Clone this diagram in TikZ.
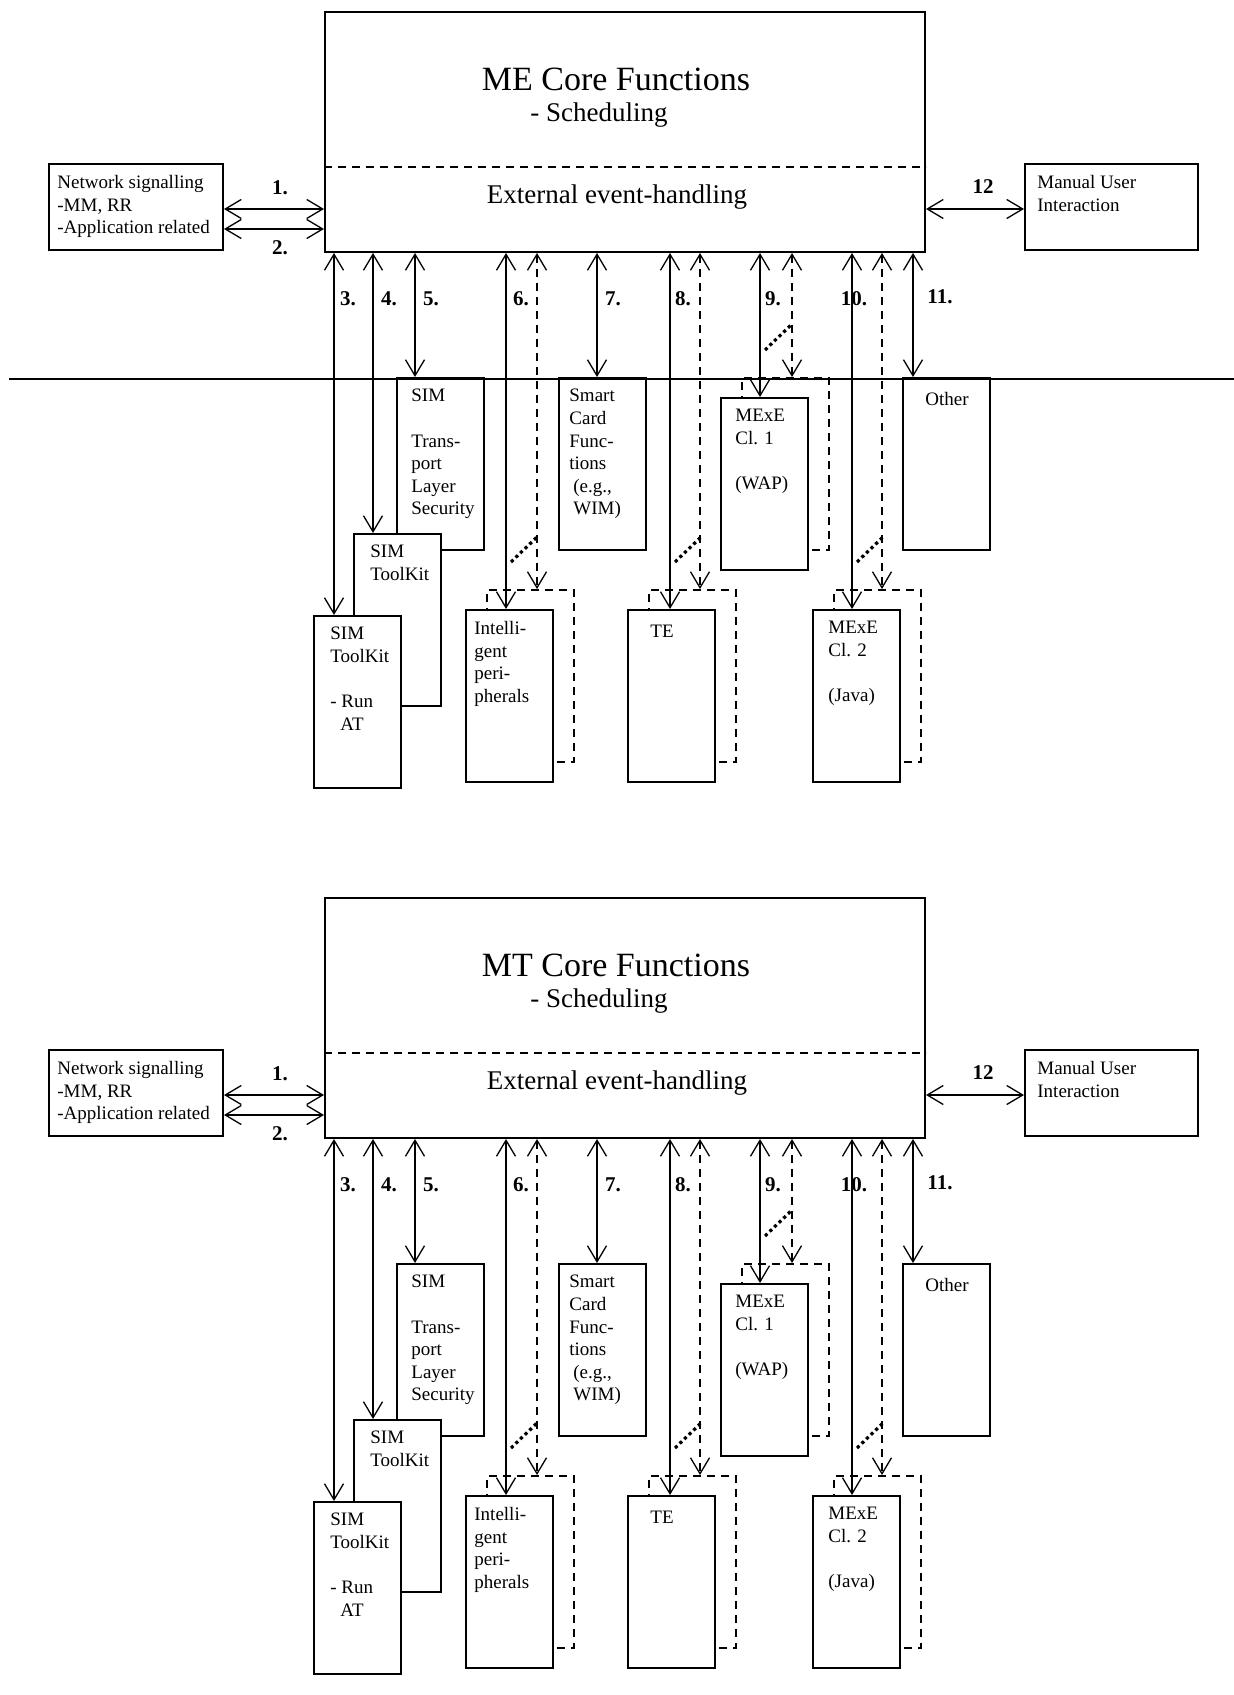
\documentclass[tikz,border=0pt]{standalone}
\usepackage{fontspec}
\setmainfont{Liberation Serif}
\usetikzlibrary{arrows.meta,positioning}

\begin{document}
\begin{tikzpicture}[x=0.5pt,y=-0.5pt,
    every node/.style={inner sep=0pt},
    box/.style={draw,line width=1pt,fill=white,anchor=north west,
      minimum width=43.5pt,minimum height=86pt},
    ghost/.style={box,dash pattern=on 4pt off 3pt,line width=0.8pt},
    txt/.style={anchor=north west,align=left,execute at begin node=\strut,
      font=\fontsize{9.5}{11.3}\selectfont},
    num/.style={font=\fontsize{10.5}{12}\selectfont\bfseries},
    link/.style={line width=0.65pt,
      {Straight Barb[length=8pt,width=9.5pt]}-{Straight Barb[length=8pt,width=9.5pt]}},
    dlink/.style={link,dash pattern=on 4pt off 3pt},
    dotlink/.style={line width=1.6pt,dash pattern=on 1.6pt off 1.6pt}]
  \useasboundingbox (0,0) rectangle (1234,1695);

  \foreach \dy/\ttl/\k in {0/ME/1,886/MT/2}{
  \begin{scope}[shift={(0,\dy)}]
    % core functions
    \node[box,minimum width=300pt,minimum height=120pt] (core\k) at (324,11) {};
    \draw[line width=0.8pt,dash pattern=on 4pt off 3pt]
      (0,167 -| core\k.west) -- (0,167 -| core\k.east);
    \node[font=\fontsize{17}{20}\selectfont] (title\k) at (616,79) {\ttl\ Core Functions};
    \node[font=\fontsize{13.5}{16}\selectfont] (sched\k) at (599,115) {- Scheduling};
    \node[font=\fontsize{13.5}{16}\selectfont] (event\k) at (617,197) {External event-handling};

    % side boxes
    \node[box,minimum width=87pt,minimum height=43pt] (net\k) at (48,163) {};
    \node[txt] (tnet\k) at ([shift={(9,12)}]net\k.north west)
      {Network signalling\\-MM, RR\\-Application related};
    \node[box,minimum width=86.5pt,minimum height=43pt] (man\k) at (1024,163) {};
    \node[txt] (tman\k) at ([shift={(13,12)}]man\k.north west) {Manual User\\Interaction};

    % SIM stack
    \node[box] (trans\k) at (396,377) {};
    \node[txt] (ttrans\k) at ([shift={(15,12)}]trans\k.north west)
      {SIM\\[11.3pt]Trans-\\port\\Layer\\Security};
    \node[box] (tk\k) at (353,533) {};
    \node[txt] (ttk\k) at ([shift={(17,12)}]tk\k.north west) {SIM\\ToolKit};
    \node[box] (runat\k) at (313,615) {};
    \node[txt] (trunat\k) at ([shift={(17,12)}]runat\k.north west)
      {SIM\\ToolKit\\[11.3pt]- Run\\\hspace*{5pt}AT};

    \node[box] (smart\k) at (558,377) {};
    \node[txt] (tsmart\k) at ([shift={(11,12)}]smart\k.north west)
      {Smart\\Card\\Func-\\tions\\\hspace*{2pt}(e.g.,\\\hspace*{2pt}WIM)};

    % boxes with dashed copies behind
    \foreach \n/\x/\y in {intel/465/609,te/627/609,mxa/720/397,mxb/812/609}{
      \node[ghost] (s\n\k) at (\x+21,\y-20) {};
      \node[box] (\n\k) at (\x,\y) {};
    }
    \node[txt] (tintel\k) at ([shift={(9,12)}]intel\k.north west)
      {Intelli-\\gent\\peri-\\pherals};
    \node[txt] (tte\k) at ([shift={(23,12)}]te\k.north west) {TE};
    \node[txt] (tmxa\k) at ([shift={(15,12)}]mxa\k.north west) {MExE\\Cl. 1\\[11.3pt](WAP)};
    \node[txt] (tmxb\k) at ([shift={(16,12)}]mxb\k.north west) {MExE\\Cl. 2\\[11.3pt](Java)};

    \node[box] (other\k) at (902,377) {};
    \node[txt] (tother\k) at ([shift={(23,12)}]other\k.north west) {Other};

    % interfaces
    \draw[link] (0,209 -| net\k.east) -- (0,209 -| core\k.west);
    \draw[link] (0,229 -| net\k.east) -- (0,229 -| core\k.west);
    \draw[link] (0,209 -| core\k.east) -- (0,209 -| man\k.west);
    \foreach \x/\n in {334/runat,373/tk,415/trans,506/intel,597/smart,
                       670/te,760/mxa,852/mxb,913/other}
      \draw[link] (\x,0 |- core\k.south) -- (\x,0 |- \n\k.north);
    \foreach \x/\n in {537/intel,700/te,792/mxa,882/mxb}
      \draw[dlink] (\x,0 |- core\k.south) -- (\x,0 |- s\n\k.north);
    \foreach \n/\a in {intel/41,te/43,mxa/40,mxb/40}
      \draw[dotlink] ([shift={(\a+5,-47)}]\n\k.north west)
        -- ([shift={(\a+31,-72)}]\n\k.north west);

    \foreach \t/\x/\y [count=\i] in {1./280/188,2./280/248,3./348/299,4./389/299,
        5./431/299,6./521/299,7./613/299,8./683/299,9./773/299,10./854/299,
        11./940/297,12/983/187}
      \node[num] (num\k-\i) at (\x,\y) {\t};
  \end{scope}
  }

  % boundary line, upper figure only
  \draw[line width=1.4pt] (9,379) -- (1234,379);
\end{tikzpicture}
\end{document}
